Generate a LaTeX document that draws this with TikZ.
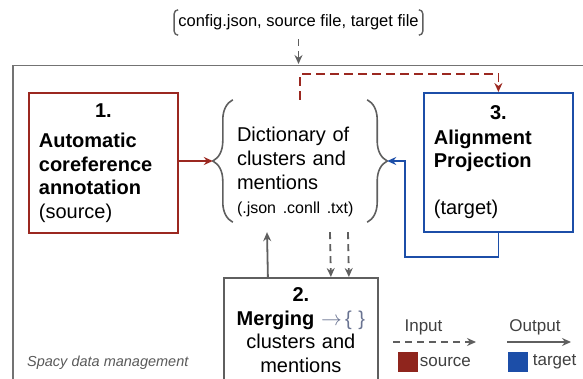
\documentclass[tikz,border=0pt]{standalone}
\usepackage{fontspec}
\setmainfont{Liberation Sans}
\usetikzlibrary{arrows.meta,decorations.pathreplacing}
\definecolor{srcred}{RGB}{155,40,32}
\definecolor{tgtblue}{RGB}{28,78,168}
\definecolor{linegray}{RGB}{95,95,95}
\definecolor{mergeblue}{RGB}{105,115,145}

\begin{document}
\begin{tikzpicture}[x=1pt,y=-1pt,
    box/.style={draw, line width=1.8pt, anchor=north west, inner sep=10pt,
      align=left, font=\fontsize{20}{23.5}\selectfont},
    tip/.style={-{Stealth[length=9pt,width=8pt,inset=3pt]}},
    inline/.style={tip, linegray, line width=1.8pt, dash pattern=on 7pt off 5pt},
    outline/.style={tip, linegray, line width=1.8pt},
    brace/.style={draw=linegray, line width=1.6pt, decorate,
      decoration={brace, amplitude=20pt}},
    keytext/.style={font=\fontsize{17}{20}\selectfont, text=black!75, inner sep=1.5pt},
    keysq/.style={minimum size=20pt, inner sep=0pt}]
  \useasboundingbox (0,0) rectangle (583,379);

  % outer frame
  \draw[black!55, line width=1.3pt] (13,400) |- (600,65.5);
  \node[anchor=west, font=\fontsize{14.5}{17}\selectfont\itshape, text=black!65,
    inner sep=0pt] (frametxt) at (27,363) {Spacy data management};

  % input files
  \node[font=\fontsize{16.5}{19}\selectfont, minimum height=25pt, inner xsep=4pt,
    inner ysep=0pt] (files) at (298.5,22.5) {config.json, source file, target file};
  \draw[linegray, line width=1.4pt, rounded corners=4pt]
    ([xshift=4pt]files.north west) -- (files.north west) -- (files.south west)
    -- ([xshift=4pt]files.south west);
  \draw[linegray, line width=1.4pt, rounded corners=4pt]
    ([xshift=-4pt]files.north east) -- (files.north east) -- (files.south east)
    -- ([xshift=-4pt]files.south east);
  \coordinate (framein) at (298.5,64);
  \draw[inline] ([yshift=-4pt]files.south) -- (framein);

  % the three steps
  \node[box, draw=srcred, minimum width=149pt, minimum height=140pt, text width=129pt]
    (annot) at (28,92) {\makebox[129pt]{\bfseries 1.}\\[7pt]\textbf{Automatic}\\
    \textbf{coreference}\\\textbf{annotation}\\(source)};
  \node[box, draw=tgtblue, minimum width=149pt, minimum height=139pt, text width=129pt]
    (proj) at (423,92) {\makebox[129pt]{\bfseries 3.}\\[1pt]\textbf{Alignment}\\
    \textbf{Projection}\\[23.5pt](target)};
  \node[box, draw=linegray, align=center, minimum width=154pt, minimum height=100pt,
    text width=134pt, inner sep=10pt] (merge) at (223,277)
    {\textbf{2.}\\\textbf{Merging} \textcolor{mergeblue}{$\rightarrow$\,\{\ \}}\\clusters and\\mentions};

  % dictionary between braces
  \node[minimum width=174pt, minimum height=122pt, inner sep=0pt] (dict) at (300,161) {};
  \node[anchor=north west, inner sep=0pt, text width=130pt, align=left,
    font=\fontsize{20}{24}\selectfont] (dicttxt) at ([xshift=24pt,yshift=-27pt]dict.north west)
    {Dictionary of\\clusters and\\mentions\\{\fontsize{16}{24}\selectfont(.json .conll .txt)}};
  \draw[brace] ([xshift=20pt]dict.south west) -- ([xshift=20pt]dict.north west);
  \draw[brace] ([xshift=-20pt]dict.north east) -- ([xshift=-20pt]dict.south east);

  % connectors
  \draw[tip, srcred, line width=1.8pt] (annot.east |- dict.west) -- (dict.west);
  \draw[tip, srcred, line width=1.8pt, dash pattern=on 9pt off 5pt]
    (dict.north) -- ++(0,-26) -| (proj.north);
  \draw[tip, tgtblue, line width=1.8pt]
    (proj.south) -- ++(0,24) -| ([xshift=18pt]dict.east) -- (dict.east);
  \draw[outline] ([xshift=-33pt]merge.north) -- ([xshift=-33pt,yshift=-10pt]dict.south);
  \draw[inline] ([xshift=30pt,yshift=-10pt]dict.south) -- ([xshift=30pt]merge.north);
  \draw[inline] ([xshift=48pt,yshift=-10pt]dict.south) -- ([xshift=48pt]merge.north);

  % legend
  \node[keytext] (inlbl) at (423.5,327) {Input};
  \node[keytext] (outlbl) at (535,327) {Output};
  \coordinate (ina) at (393,342);
  \coordinate (inb) at (476,342);
  \coordinate (outa) at (507,342);
  \coordinate (outb) at (571,342);
  \draw[inline] (ina) -- (inb);
  \draw[outline] (outa) -- (outb);
  \node[keysq, fill=srcred!92!black] (srckey) at (408,362) {};
  \node[keytext, anchor=west] (srclbl) at (srckey.east) {source};
  \node[keysq, fill=tgtblue] (tgtkey) at (518,362) {};
  \node[keytext, anchor=west] (tgtlbl) at ([xshift=3pt]tgtkey.east) {target};
\end{tikzpicture}
\end{document}
